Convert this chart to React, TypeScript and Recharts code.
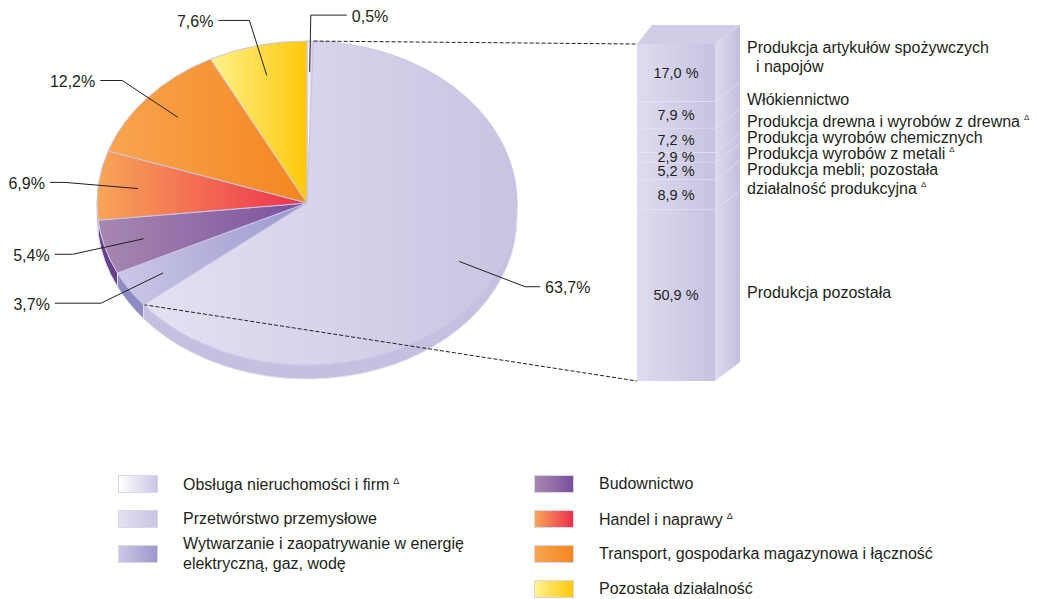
import React from 'react'
import { PieChart, Pie, Cell, BarChart, Bar, XAxis, YAxis, LabelList } from 'recharts'

// sectors of the economy (pie), clockwise from 12 o'clock
const sectors = [
  'Obsługa nieruchomości i firm',
  'Przetwórstwo przemysłowe',
  'Wytwarzanie i zaopatrywanie w energię\nelektryczną, gaz, wodę',
  'Budownictwo',
  'Handel i naprawy',
  'Transport, gospodarka magazynowa i łączność',
  'Pozostała działalność'
]
const sectorShares = [0.5, 63.7, 3.7, 5.4, 6.9, 12.2, 7.6]
const sectorDelta = [true, false, false, false, true, false, false]

// breakdown of manufacturing (bar), top to bottom
const industries = [
  'Produkcja artykułów spożywczych\n  i napojów',
  'Włókiennictwo',
  'Produkcja drewna i wyrobów z drewna',
  'Produkcja wyrobów chemicznych',
  'Produkcja wyrobów z metali',
  'Produkcja mebli; pozostała\ndziałalność produkcyjna',
  'Produkcja pozostała'
]
const industryShares = [17.0, 7.9, 7.2, 2.9, 5.2, 8.9, 50.9]
const industryDelta = [false, false, true, false, true, true, false]

// styling / layout
const FONT = '"Liberation Sans", Arial, Helvetica, sans-serif'
const INK = '#231f20'
const TILT = 162 / 210
const DEPTH = 14
const sliceColors = [
  ['#ffffff', '#c9c6e4'],
  ['#e3e1f2', '#c8c4e2'],
  ['#cbc8e7', '#9c97cd'],
  ['#a788b0', '#7a519e'],
  ['#f8a657', '#ed2f4f'],
  ['#f8a550', '#f5861f'],
  ['#fff28c', '#fdc80a']
]
const wallColors = ['#d9d7ec', '#c4c0df', '#8f8ac4', '#66418c', '#c7303f', '#e07a1c', '#e8b40a']
const labelArm = [36, 15, 46, 18, 15, 22, 31]
const BAR_X = 637
const BAR_TOP = 44
const BAR_BOTTOM = 381
const SIDE_DX = 25
const SIDE_DY = 19
const sideLabelY = [47, 99, 121, 137, 153, 169, 292]
const legendRows = [475, 510, 545, 580]

const fmt = (v: number) => v.toFixed(1).replace('.', ',')

const pieData = sectors.map((name, i) => ({ name, value: sectorShares[i] }))
const barRow = [
  industryShares.reduce((acc: Record<string, number | string>, v, i) => {
    acc[`s${i}`] = v
    return acc
  }, { name: 'Przetwórstwo przemysłowe' })
]
const stackOrder = industryShares.map((_, i) => industryShares.length - 1 - i)

const Delta = () => (
  <tspan fontSize={8} dy={-4} dx={4}>Δ</tspan>
)

const renderSlice = (props: any) => {
  const { cx, cy, outerRadius, startAngle, endAngle, fill, name } = props
  const i = sectors.indexOf(name ?? props.payload?.name)
  const rx = outerRadius
  const ry = outerRadius * TILT
  const pt = (a: number, dy = 0) => {
    const r = (a * Math.PI) / 180
    return [cx + rx * Math.cos(r), cy - ry * Math.sin(r) + dy]
  }
  const a1 = Math.max(startAngle, endAngle)
  const a2 = Math.min(startAngle, endAngle)
  const [sx, sy] = pt(a1)
  const [ex, ey] = pt(a2)
  const large = a1 - a2 > 180 ? 1 : 0
  const top = `M${cx},${cy} L${sx},${sy} A${rx},${ry} 0 ${large} 1 ${ex},${ey} Z`

  // side wall for the part of the arc on the front (lower) half
  const hi = Math.min(a1, 0)
  const lo = Math.max(a2, -180)
  let wall = null
  if (hi > lo) {
    const [hx, hy] = pt(hi)
    const [lx, ly] = pt(lo)
    const [lx2, ly2] = pt(lo, DEPTH)
    const [hx2, hy2] = pt(hi, DEPTH)
    wall = (
      <path
        d={`M${hx},${hy} A${rx},${ry} 0 0 1 ${lx},${ly} L${lx2},${ly2} A${rx},${ry} 0 0 0 ${hx2},${hy2} Z`}
        fill={wallColors[i]}
        stroke="#e2e0f1"
        strokeWidth={1}
      />
    )
  }

  return (
    <g>
      {wall}
      <path d={top} fill={fill} stroke="#c9c6e4" strokeWidth={1} />
      {i === 1 && (
        <g stroke={INK} strokeWidth={1} strokeDasharray="4 2" fill="none">
          <line x1={sx} y1={sy} x2={BAR_X} y2={BAR_TOP} />
          <line x1={ex} y1={ey} x2={BAR_X} y2={BAR_BOTTOM} />
        </g>
      )}
    </g>
  )
}

const renderPieLabel = (props: any) => {
  const { cx, cy, midAngle, outerRadius, value, name } = props
  const i = sectors.indexOf(name ?? props.payload?.name)
  const rx = outerRadius
  const ry = outerRadius * TILT
  const rad = (midAngle * Math.PI) / 180
  const pt = (r: number) => [cx + r * rx * Math.cos(rad), cy - r * ry * Math.sin(rad)]
  const [x0, y0] = pt(0.81)
  const [x1, y1] = pt(1.16)
  const dir = Math.cos(rad) >= 0 ? 1 : -1
  const x2 = x1 + dir * labelArm[i]
  return (
    <g>
      <polyline points={`${x0},${y0} ${x1},${y1} ${x2},${y1}`} fill="none" stroke={INK} strokeWidth={1} />
      <text
        x={x2 + dir * 5}
        y={y1 + 1}
        textAnchor={dir > 0 ? 'start' : 'end'}
        dominantBaseline="central"
        fontSize={16}
        fontFamily={FONT}
        fill={INK}
      >
        {fmt(value)}%
      </text>
    </g>
  )
}

const makeBarShape = (i: number) => (props: any) => {
  const { x, y, width: w, height: h } = props
  const side = `${x + w},${y} ${x + w + SIDE_DX},${y - SIDE_DY} ${x + w + SIDE_DX},${y + h - SIDE_DY} ${x + w},${y + h}`
  return (
    <g>
      <rect x={x} y={y} width={w} height={h} fill="url(#barFront)" />
      <polygon points={side} fill="url(#barSide)" />
      {i === 0 ? (
        <polygon
          points={`${x},${y} ${x + 15},${y - SIDE_DY} ${x + w + SIDE_DX},${y - SIDE_DY} ${x + w},${y}`}
          fill="#d0cde7"
        />
      ) : (
        <g stroke="#eceaf6" strokeWidth={1}>
          <line x1={x} y1={y} x2={x + w} y2={y} />
          <line x1={x + w} y1={y} x2={x + w + SIDE_DX} y2={y - SIDE_DY} />
        </g>
      )}
    </g>
  )
}

const makeSideLabel = (i: number) => (props: any) => {
  const { x, width } = props
  const lines = industries[i].split('\n')
  const tx = x + width + 32
  return (
    <text x={tx} fontSize={16} fontFamily={FONT} fill={INK} style={{ whiteSpace: 'pre' }}>
      {lines.map((ln, k) => (
        <tspan key={k} x={tx} y={sideLabelY[i] + k * 19} dominantBaseline="central">
          {ln}
          {industryDelta[i] && k === lines.length - 1 ? <Delta /> : null}
        </tspan>
      ))}
    </text>
  )
}

const LegendItem = ({ i, left, top }: { i: number; left: number; top: number }) => {
  const [c1, c2] = sliceColors[i]
  const lines = sectors[i].split('\n')
  return (
    <div style={{ position: 'absolute', left, top, height: 17, display: 'flex', alignItems: 'center' }}>
      <div
        style={{
          width: 38,
          height: 16,
          background: `linear-gradient(to right, ${c1}, ${c2})`,
          border: '1px solid #d8d6eb'
        }}
      />
      <div style={{ marginLeft: 25, fontSize: 16, lineHeight: '20px', color: INK, whiteSpace: 'nowrap' }}>
        {lines.map((ln, k) => (
          <div key={k}>
            {ln}
            {sectorDelta[i] && k === lines.length - 1 ? (
              <sup style={{ fontSize: 9, marginLeft: 4 }}>Δ</sup>
            ) : null}
          </div>
        ))}
      </div>
    </div>
  )
}

export default function App() {
  return (
    <div style={{ position: 'relative', width: 1041, height: 599, background: '#fff', fontFamily: FONT, overflow: 'hidden' }}>
      <style>{'body{margin:0}'}</style>
      <div style={{ position: 'absolute', left: 0, top: 0 }}>
        <PieChart width={1041} height={460} margin={{ top: 0, right: 0, bottom: 0, left: 0 }}>
          <defs>
            {sliceColors.map(([a, b], i) => (
              <linearGradient key={i} id={`slice${i}`} x1="0" y1="0" x2="1" y2="0">
                <stop offset="0%" stopColor={a} />
                <stop offset="100%" stopColor={b} />
              </linearGradient>
            ))}
          </defs>
          <Pie
            data={pieData}
            dataKey="value"
            nameKey="name"
            cx={307}
            cy={203}
            outerRadius={210}
            startAngle={90}
            endAngle={-270}
            isAnimationActive={false}
            shape={renderSlice}
            label={renderPieLabel}
            labelLine={false}
          >
            {pieData.map((_, i) => (
              <Cell key={i} fill={`url(#slice${i})`} />
            ))}
          </Pie>
        </PieChart>
      </div>

      <div style={{ position: 'absolute', left: 600, top: 0 }}>
        <BarChart
          width={441}
          height={400}
          data={barRow}
          margin={{ top: BAR_TOP, right: 441 - (BAR_X - 600) - 78, bottom: 400 - BAR_BOTTOM, left: BAR_X - 600 }}
          barCategoryGap={0}
        >
          <defs>
            <linearGradient id="barFront" x1="0" y1="0" x2="1" y2="0">
              <stop offset="0%" stopColor="#dedcef" />
              <stop offset="100%" stopColor="#c6c2e1" />
            </linearGradient>
            <linearGradient id="barSide" x1="0" y1="0" x2="1" y2="0">
              <stop offset="0%" stopColor="#dcdaee" />
              <stop offset="100%" stopColor="#c3bfdf" />
            </linearGradient>
          </defs>
          <XAxis dataKey="name" hide />
          <YAxis hide domain={[0, 'dataMax']} />
          {stackOrder.map(i => (
            <Bar key={i} dataKey={`s${i}`} stackId="m" isAnimationActive={false} shape={makeBarShape(i)}>
              <LabelList
                dataKey={`s${i}`}
                position="center"
                formatter={(v: any) => `${fmt(Number(v))} %`}
                fill={INK}
                fontSize={14.5}
                fontFamily={FONT}
              />
              <LabelList dataKey={`s${i}`} content={makeSideLabel(i)} />
            </Bar>
          ))}
        </BarChart>
      </div>

      {[0, 1, 2].map((i, r) => (
        <LegendItem key={i} i={i} left={118} top={legendRows[r]} />
      ))}
      {[3, 4, 5, 6].map((i, r) => (
        <LegendItem key={i} i={i} left={534} top={legendRows[r]} />
      ))}
    </div>
  )
}
